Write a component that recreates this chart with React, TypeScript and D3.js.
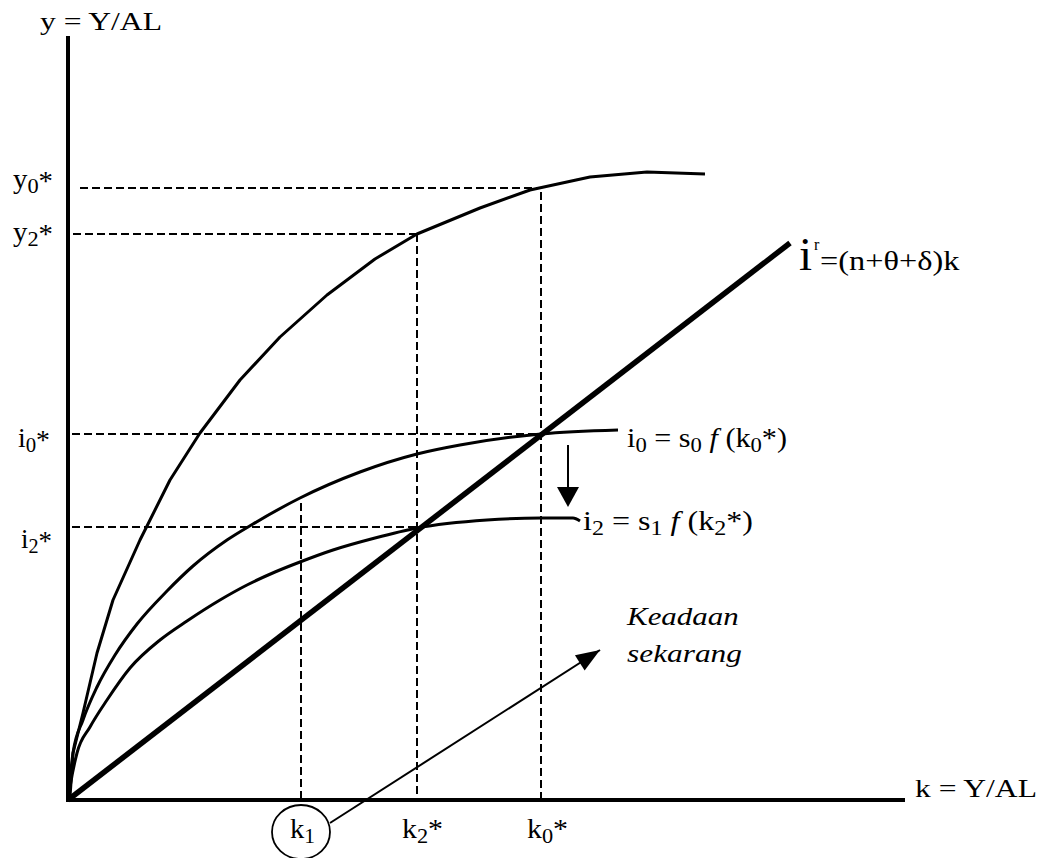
import React, { useRef, useState, useLayoutEffect } from 'react';
import * as d3 from 'd3';

const W = 1041;
const H = 858;

// k on the horizontal axis, y / i on the vertical one
const outputCurve: [number, number][] = [
  [0, 0], [0.2, 0.3], [0.5, 4.7], [1.5, 8.7], [2.9, 14.7], [4.5, 20], [7.2, 26],
  [10.2, 32], [13.2, 36.7], [17.2, 42], [21.2, 46.3], [25.9, 50.5], [30.7, 54.1],
  [34.9, 56.6], [41.2, 59.2], [46.2, 61], [52.2, 62.3], [57.9, 62.8], [63.7, 62.6],
];
const invest0: [number, number][] = [
  [0, 0], [0.5, 4.7], [1.5, 8], [2.9, 11.3], [4.7, 14.5], [6.9, 17.6], [9.9, 20.9],
  [12.5, 23.4], [15.9, 26], [18.5, 27.6], [23.2, 30.2], [29.2, 32.8], [34.9, 34.6],
  [39.2, 35.5], [47.3, 36.6], [55, 37],
];
const invest2: [number, number][] = [
  [0, 0], [0.2, 1.3], [0.9, 4.7], [2.2, 7.3], [3.9, 10], [6.2, 13.2], [9.2, 16],
  [11.9, 17.9], [15.2, 20], [17.9, 21.5], [20.7, 22.8], [23.2, 23.8], [26.5, 25],
  [30.7, 26.2], [34.9, 27.2], [41.9, 28], [47.3, 28.2], [50.5, 28.2], [51.2, 27.9],
];
const breakEven: [number, number][] = [[0, 0], [72.2, 55.7]];

const kValues = { k1: 23.3, k2: 34.9, k0: 47.3 };
const yValues = { y0: 61.2, y2: 56.6, i0: 36.6, i2: 27.3 };

// annotation arrows
const shiftArrow: [number, number][] = [[50, 35.5], [50, 29.3]];
const nowArrow: [number, number][] = [[26.2, -2.3], [53.2, 15]];

const x = d3.scaleLinear().domain([0, 83.7]).range([68, 905]);
const y = d3.scaleLinear().domain([0, 76.4]).range([800, 36]);

const line = d3
  .line<[number, number]>()
  .x((d) => x(d[0]))
  .y((d) => y(d[1]));

const smooth = d3
  .line<[number, number]>()
  .x((d) => x(d[0]))
  .y((d) => y(d[1]))
  .curve(d3.curveMonotoneX);

const FONT = '"Liberation Serif", "Times New Roman", serif';

// text is stretched sideways to the width it has in the picture
function Label({ px, py, width, size = 25, italic = false, children }: any) {
  const ref = useRef<SVGTextElement>(null);
  const [sx, setSx] = useState(1);
  useLayoutEffect(() => {
    if (ref.current && width) {
      const w = ref.current.getBBox().width;
      if (w > 0) setSx(width / w);
    }
  }, [width]);
  return (
    <g transform={`translate(${px},${py}) scale(${sx},1)`}>
      <text ref={ref} fontFamily={FONT} fontSize={size} fontStyle={italic ? 'italic' : 'normal'} fill="#000">
        {children}
      </text>
    </g>
  );
}

const Sub = ({ t, rest, size = 21, drop = 5 }: any) => (
  <>
    <tspan fontSize={size} dy={drop}>{t}</tspan>
    <tspan dy={-drop}>{rest}</tspan>
  </>
);

function arrowHead(from: [number, number], to: [number, number], len: number, half: number) {
  const x1 = x(from[0]), y1 = y(from[1]), x2 = x(to[0]), y2 = y(to[1]);
  const d = Math.hypot(x2 - x1, y2 - y1);
  const ux = (x2 - x1) / d, uy = (y2 - y1) / d;
  const bx = x2 - ux * len, by = y2 - uy * len;
  return `${x2},${y2} ${bx - uy * half},${by + ux * half} ${bx + uy * half},${by - ux * half}`;
}

export default function App() {
  const dash = { stroke: '#000', strokeWidth: 2, strokeDasharray: '8 4', fill: 'none' };
  const curve = { stroke: '#000', strokeWidth: 3, fill: 'none', strokeLinejoin: 'round' as const };

  return (
    <svg width={W} height={H} style={{ position: 'absolute', left: 0, top: 0, background: '#fff' }}>
      {/* dashed guides */}
      <line x1={x(1.2)} x2={x(kValues.k0)} y1={y(yValues.y0)} y2={y(yValues.y0)} style={dash} />
      <line x1={x(0.5)} x2={x(kValues.k2)} y1={y(yValues.y2)} y2={y(yValues.y2)} style={dash} />
      <line x1={x(0.4)} x2={x(kValues.k0)} y1={y(yValues.i0)} y2={y(yValues.i0)} style={dash} />
      <line x1={x(0.4)} x2={x(kValues.k2)} y1={y(yValues.i2)} y2={y(yValues.i2)} style={dash} />
      <line x1={x(kValues.k1)} x2={x(kValues.k1)} y1={y(29.7)} y2={y(0)} style={dash} />
      <line x1={x(kValues.k2)} x2={x(kValues.k2)} y1={y(yValues.y2)} y2={y(0)} style={dash} />
      <line x1={x(kValues.k0)} x2={x(kValues.k0)} y1={y(yValues.y0 - 0.4)} y2={y(0)} style={dash} />

      {/* curves */}
      <path d={line(outputCurve) || ''} style={curve} />
      <path d={smooth(invest0) || ''} style={curve} />
      <path d={smooth(invest2) || ''} style={curve} />
      <path d={line(breakEven) || ''} stroke="#000" strokeWidth={5.5} fill="none" />

      {/* axes */}
      <line x1={x(0)} x2={x(0)} y1={y(0) + 2} y2={y(76.4)} stroke="#000" strokeWidth={4} />
      <line x1={x(0) - 2} x2={x(83.7)} y1={y(0)} y2={y(0)} stroke="#000" strokeWidth={4} />

      {/* arrows */}
      <line x1={x(shiftArrow[0][0])} y1={y(shiftArrow[0][1])} x2={x(shiftArrow[1][0])} y2={y(shiftArrow[1][1]) - 15}
        stroke="#000" strokeWidth={2} />
      <polygon points={arrowHead(shiftArrow[0], shiftArrow[1], 20, 11)} fill="#000" />
      <line x1={x(nowArrow[0][0])} y1={y(nowArrow[0][1])} x2={x(nowArrow[1][0])} y2={y(nowArrow[1][1])}
        stroke="#000" strokeWidth={2} />
      <polygon points={arrowHead(nowArrow[0], nowArrow[1], 24, 9)} fill="#000" />
      <ellipse cx={x(kValues.k1)} cy={y(-3.2)} rx={29} ry={27} fill="none" stroke="#000" strokeWidth={1.8} />

      {/* axis titles */}
      <Label px={40} py={30} width={122} size={25}>y = Y/AL</Label>
      <Label px={915} py={797} width={122} size={26}>k = Y/AL</Label>

      {/* vertical labels */}
      <Label px={13} py={y(yValues.y0)} width={40} size={27}>y<Sub t="0" rest="" /><tspan dy={-3}>*</tspan></Label>
      <Label px={13} py={y(yValues.y2) + 7} width={40} size={27}>y<Sub t="2" rest="" /><tspan dy={-3}>*</tspan></Label>
      <Label px={18} py={y(yValues.i0) + 13} width={32} size={28}>i<Sub t="0" rest="" /><tspan dy={-3}>*</tspan></Label>
      <Label px={21} py={y(yValues.i2) + 21} width={31} size={28}>i<Sub t="2" rest="" /><tspan dy={-3}>*</tspan></Label>

      {/* horizontal labels */}
      <Label px={290} py={838} width={25} size={28}>k<Sub t="1" rest="" /></Label>
      <Label px={402} py={838} width={41} size={28}>k<Sub t="2" rest="*" /></Label>
      <Label px={527} py={838} width={41} size={28}>k<Sub t="0" rest="*" /></Label>

      {/* line labels */}
      <text x={799} y={270} fontFamily={FONT} fontSize={47}>i</text>
      <text x={814} y={250} fontFamily={FONT} fontSize={16}>r</text>
      <Label px={820} py={270} width={140} size={27}>=(n+θ+δ)k</Label>

      <Label px={627} py={447} width={160} size={28}>
        i<Sub t="0" rest=" = s" /><Sub t="0" rest=" " /><tspan fontStyle="italic">f</tspan>
        <tspan> (k</tspan><Sub t="0" rest="*)" />
      </Label>
      <Label px={583} py={530} width={170} size={28}>
        i<Sub t="2" rest=" = s" /><Sub t="1" rest=" " /><tspan fontStyle="italic">f</tspan>
        <tspan> (k</tspan><Sub t="2" rest="*)" />
      </Label>

      <Label px={627} py={625} width={113} size={25} italic>Keadaan</Label>
      <Label px={627} py={662} width={115} size={25} italic>sekarang</Label>
    </svg>
  );
}
